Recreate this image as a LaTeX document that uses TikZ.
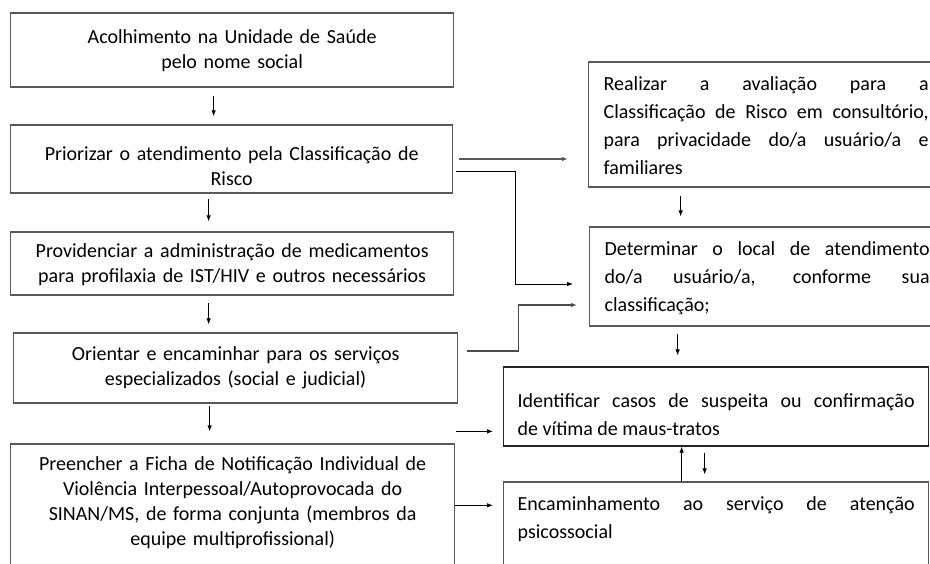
\documentclass[tikz,border=0pt]{standalone}
\usepackage{fontspec}
\setmainfont{Carlito}
\usetikzlibrary{arrows.meta}

\tikzset{
  caixa/.style={draw=gray!70!black, line width=1.3pt, inner xsep=10pt, inner ysep=0pt,
    anchor=base west, font=\fontsize{20}{25}\selectfont},
  centro/.style={caixa, align=center, text width=423pt},
  justo/.style={caixa, align=justify, inner xsep=15pt, font=\fontsize{20}{28}\selectfont},
  seta/.style={-{Latex[length=6pt,width=4.5pt]}, line width=0.8pt},
}

\begin{document}
\begin{tikzpicture}[x=1pt, y=-1pt]

      \useasboundingbox (0,0) rectangle (930,563);

      \node[centro, text height=30pt, text depth=44pt] (b1) at (10,43)
        {Acolhimento na Unidade de Saúde\\pelo nome social};
      \node[centro, text height=35pt, text depth=33pt, text width=422pt] (b2) at (10,160)
        {Priorizar o atendimento pela Classificação de\\Risco};
      \node[centro, text height=25pt, text depth=38pt] (b3) at (10,257)
        {Providenciar a administração de medicamentos\\para profilaxia de IST/HIV e outros necessários};
      \node[centro, text height=27pt, text depth=43pt, text width=424pt] (b4) at (13,360)
        {Orientar e encaminhar para os serviços\\especializados (social e judicial)};
      \node[centro, text height=26pt, text depth=120pt, text width=424pt] (b5) at (10,470)
        {Preencher a Ficha de Notificação Individual de\\Violência Interpessoal/Autoprovocada do\\SINAN/MS, de forma conjunta (membros da\\equipe multiprofissional)};

      \node[justo, text height=28pt, text depth=97pt, text width=325pt] (r1) at (588,90)
        {Realizar a avaliação para a\linebreak Classificação de Risco em consultório,\linebreak para privacidade do/a usuário/a e\linebreak familiares};
      \node[justo, text height=28pt, text depth=71pt, text width=325pt] (r2) at (589,255)
        {Determinar o local de atendimento\linebreak do/a usuário/a, conforme sua\linebreak classificação;};
      \node[justo, draw=black!85, inner xsep=14pt, text height=40pt, text depth=39pt, text width=397pt] (r3) at (503,407)
        {Identificar casos de suspeita ou confirmação\linebreak de vítima de maus-tratos};
      \node[justo, inner xsep=14pt, text height=28pt, text depth=100pt, text width=397pt] (r4) at (503,510)
        {Encaminhamento ao serviço de atenção\linebreak psicossocial};

      \draw[seta, shorten <=8pt, shorten >=8pt] ([xshift=-18.5pt]b1.south) -- ([xshift=-18.5pt]b1.south |- b2.north);
      \draw[seta, shorten <=5pt, shorten >=10pt] ([xshift=-23pt]b2.south) -- ([xshift=-23pt]b2.south |- b3.north);
      \draw[seta, shorten <=7pt, shorten >=8pt] ([xshift=-23.5pt]b3.south) -- ([xshift=-23.5pt]b3.south |- b4.north);
      \draw[seta, shorten <=2pt, shorten >=12pt] ([xshift=-26pt]b4.south) -- ([xshift=-26pt]b4.south |- b5.north);

      \draw[seta, shorten <=8pt, shorten >=10pt] ([xshift=-85.5pt]r1.south) -- ([xshift=-85.5pt]r1.south |- r2.north);
      \draw[seta, shorten <=7pt, shorten >=11pt] ([xshift=-89.5pt]r2.south) -- ([xshift=-89.5pt]r2.south |- r3.north);
      \draw[seta] ([xshift=-34.5pt]r4.north) -- ([xshift=-34.5pt]r4.north |- r3.south);
      \draw[seta, shorten <=6pt, shorten >=7pt] ([xshift=-11.5pt]r3.south) -- ([xshift=-11.5pt]r3.south |- r4.north);

      \draw[seta, draw=gray!70!black, line width=1.6pt, shorten <=6pt, shorten >=20pt] (b2.east) -- (b2.east -| r1.west);
      \draw[seta, shorten <=3pt] ([yshift=-12pt]b2.east) -- ++(62,0) |- ([xshift=-16pt, yshift=-7.5pt]r2.west);
      \draw[seta, draw=gray!60!black, line width=1.2pt, shorten <=9pt] ([yshift=17pt]b4.east) -- ++(60,0) |- ([xshift=-12pt, yshift=-28.5pt]r2.west);

      \coordinate (c4) at ([yshift=12pt]b5.north east);
      \coordinate (c5) at ([yshift=-62pt]b5.north east);
      \draw[seta, shorten <=1pt, shorten >=10pt] (c4) -- (c4 -| r3.west);
      \draw[seta, shorten >=10pt] (c5) -- (c5 -| r4.west);

\end{tikzpicture}
\end{document}
